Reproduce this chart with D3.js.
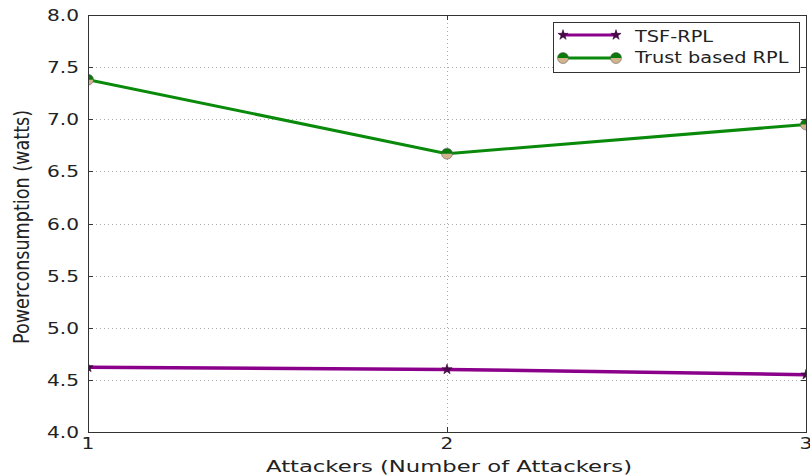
<!DOCTYPE html>
<html lang="en">
<head>
  <meta charset="UTF-8">
  <title>Powerconsumption vs Attackers</title>
  <script src="https://d3js.org/d3.v7.min.js"></script>
  <style>
    body { margin: 0; background: #fff; }
    text { font-family: 'DejaVu Sans', sans-serif; fill: #222; }
  </style>
</head>
<body>
<div id="chart"></div>
<script>
  const attackers = [1, 2, 3];
  const tsfRpl = [4.62, 4.60, 4.55];
  const trustRpl = [7.38, 6.67, 6.95];
  const yTicks = [4.0, 4.5, 5.0, 5.5, 6.0, 6.5, 7.0, 7.5, 8.0];
  const xTicks = [1, 2, 3];

  const width = 810, height = 475;
  const mLeft = 88, mRight = 806, mTop = 15, mBottom = 432;

  const svg = d3.select("#chart").append("svg")
    .attr("width", width).attr("height", height);

  const x = d3.scaleLinear().domain([1, 3]).range([mLeft, mRight]);
  const y = d3.scaleLinear().domain([4, 8]).range([mBottom, mTop]);

  svg.append("clipPath").attr("id", "plot-clip")
    .append("rect").attr("x", mLeft).attr("y", mTop)
    .attr("width", mRight - mLeft).attr("height", mBottom - mTop);

  // grid
  const grid = svg.append("g")
    .attr("stroke", "#aaa").attr("stroke-width", 1).attr("stroke-dasharray", "1,3");
  grid.selectAll(".gy").data(yTicks.slice(1, -1)).join("line")
    .attr("x1", mLeft).attr("x2", mRight)
    .attr("y1", d => Math.round(y(d)) + 0.5).attr("y2", d => Math.round(y(d)) + 0.5);
  grid.selectAll(".gx").data(xTicks.slice(1, -1)).join("line")
    .attr("y1", mTop).attr("y2", mBottom)
    .attr("x1", d => Math.round(x(d)) + 0.5).attr("x2", d => Math.round(x(d)) + 0.5);

  // lines
  const line = d3.line().x((d, i) => x(attackers[i])).y(d => y(d));
  const plot = svg.append("g").attr("clip-path", "url(#plot-clip)");

  plot.append("path").datum(tsfRpl).attr("d", line)
    .attr("fill", "none").attr("stroke", "#8b008b").attr("stroke-width", 3.5);
  plot.append("path").datum(trustRpl).attr("d", line)
    .attr("fill", "none").attr("stroke", "#0a8a0a").attr("stroke-width", 3);

  const star = d3.symbol().type(d3.symbolStar).size(32);

  function starMarker(g, cx, cy) {
    g.append("path").attr("d", star())
      .attr("transform", `translate(${cx},${cy})`)
      .attr("fill", "#4a0a4a").attr("stroke", "#3a003a").attr("stroke-width", 0.6);
  }
  function circleMarker(g, cx, cy) {
    const r = 5.5;
    const mk = g.append("g").attr("transform", `translate(${cx},${cy})`);
    mk.append("path").attr("d", `M${-r},0A${r},${r} 0 0 1 ${r},0Z`).attr("fill", "#0a7a0a");
    mk.append("path").attr("d", `M${-r},0A${r},${r} 0 0 0 ${r},0Z`).attr("fill", "#d2b48c");
    mk.append("circle").attr("r", r).attr("fill", "none").attr("stroke", "#555").attr("stroke-width", 0.5);
  }

  tsfRpl.forEach((v, i) => starMarker(plot, x(attackers[i]), y(v)));
  trustRpl.forEach((v, i) => circleMarker(plot, x(attackers[i]), y(v)));

  // frame
  svg.append("rect").attr("x", mLeft + 0.5).attr("y", mTop + 0.5)
    .attr("width", mRight - mLeft).attr("height", mBottom - mTop)
    .attr("fill", "none").attr("stroke", "#333").attr("stroke-width", 1);

  // inward ticks
  const ticks = svg.append("g").attr("stroke", "#333").attr("stroke-width", 1);
  yTicks.forEach(t => {
    const yy = Math.round(y(t)) + 0.5;
    ticks.append("line").attr("x1", mLeft).attr("x2", mLeft + 5).attr("y1", yy).attr("y2", yy);
    ticks.append("line").attr("x1", mRight - 5).attr("x2", mRight).attr("y1", yy).attr("y2", yy);
  });
  xTicks.forEach(t => {
    const xx = Math.round(x(t)) + 0.5;
    ticks.append("line").attr("x1", xx).attr("x2", xx).attr("y1", mBottom).attr("y2", mBottom - 5);
    ticks.append("line").attr("x1", xx).attr("x2", xx).attr("y1", mTop).attr("y2", mTop + 5);
  });

  // tick labels (source image is stretched horizontally)
  yTicks.forEach(t => {
    svg.append("text")
      .attr("transform", `translate(79,${y(t) + 6}) scale(1.26,1)`)
      .attr("text-anchor", "end").attr("font-size", 16)
      .text(t.toFixed(1));
  });
  xTicks.forEach(t => {
    svg.append("text")
      .attr("transform", `translate(${x(t)},449) scale(1.26,1)`)
      .attr("text-anchor", "middle").attr("font-size", 16)
      .text(t);
  });

  // axis titles
  svg.append("text")
    .attr("x", 449).attr("y", 472).attr("text-anchor", "middle")
    .attr("font-size", 16).attr("textLength", 366).attr("lengthAdjust", "spacingAndGlyphs")
    .text("Attackers (Number of Attackers)");

  svg.append("text")
    .attr("transform", "translate(28.5,227) scale(1.23,1) rotate(-90)")
    .attr("text-anchor", "middle").attr("font-size", 17.6)
    .text("Powerconsumption (watts)");

  // legend
  const legend = svg.append("g");
  legend.append("rect").attr("x", 553.5).attr("y", 22.5).attr("width", 246).attr("height", 50)
    .attr("fill", "#fff").attr("stroke", "#333").attr("stroke-width", 1);
  const items = [
    { name: "TSF-RPL", color: "#8b008b", marker: starMarker, ly: 35, ty: 42 },
    { name: "Trust based RPL", color: "#0a8a0a", marker: circleMarker, ly: 58, ty: 63 }
  ];
  items.forEach(it => {
    legend.append("line").attr("x1", 563).attr("x2", 616).attr("y1", it.ly).attr("y2", it.ly)
      .attr("stroke", it.color).attr("stroke-width", 3);
    it.marker(legend, 563, it.ly);
    it.marker(legend, 616, it.ly);
    legend.append("text")
      .attr("transform", `translate(635,${it.ty}) scale(1.21,1)`)
      .attr("font-size", 16).text(it.name);
  });
</script>
</body>
</html>
